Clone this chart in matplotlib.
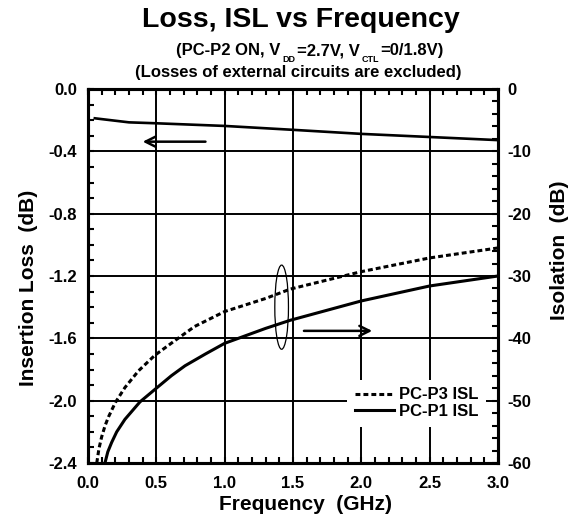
import matplotlib
matplotlib.use("Agg")
import matplotlib.pyplot as plt
from matplotlib.patches import Ellipse
from matplotlib.ticker import MultipleLocator, FormatStrFormatter

plt.rcParams['font.family'] = ['Liberation Sans', 'DejaVu Sans']
plt.rcParams['font.weight'] = 'bold'
plt.rcParams['axes.unicode_minus'] = False

# insertion loss (left axis)
freq_loss = [0.05, 0.3, 0.5, 1.0, 1.5, 2.0, 2.5, 3.0]
loss = [-0.188, -0.214, -0.220, -0.237, -0.262, -0.288, -0.308, -0.328]

# isolation curves (right axis)
freq_p3 = [0.064, 0.08, 0.10, 0.125, 0.15, 0.20, 0.27, 0.37, 0.49, 0.64, 0.78, 1.0, 1.3, 1.48, 2.0, 2.5, 3.0]
isl_p3 = [-60, -57.7, -55.8, -54.0, -52.6, -50.3, -47.9, -45.2, -42.7, -40.3, -38.1, -35.7, -33.6, -32.1, -29.3, -27.1, -25.5]

freq_p1 = [0.124, 0.145, 0.173, 0.21, 0.27, 0.38, 0.50, 0.61, 0.71, 0.86, 1.0, 1.3, 1.48, 2.0, 2.5, 3.0]
isl_p1 = [-60, -58.2, -56.7, -55.0, -53.0, -50.2, -48.0, -46.0, -44.4, -42.5, -40.8, -38.4, -37.1, -34.0, -31.6, -30.0]

W, H = 579, 522
fig = plt.figure(figsize=(5.79, 5.22), dpi=100)
ax = fig.add_axes([0.152, 0.113, 0.708, 0.7165])
ax2 = ax.twinx()

ax.plot(freq_loss, loss, color='black', linewidth=1.9)
ax2.plot(freq_p3, isl_p3, color='black', linewidth=2.2, dashes=(1.6, 1.0), label='PC-P3 ISL')
ax2.plot(freq_p1, isl_p1, color='black', linewidth=2.2, label='PC-P1 ISL')

ax.set_xlim(0, 3.0)
ax.set_ylim(-2.4, 0.0)
ax2.set_ylim(-60, 0)

ax.xaxis.set_major_locator(MultipleLocator(0.5))
ax.xaxis.set_minor_locator(MultipleLocator(0.1))
ax.yaxis.set_major_locator(MultipleLocator(0.4))
ax.yaxis.set_minor_locator(MultipleLocator(0.1))
ax2.yaxis.set_major_locator(MultipleLocator(10))
ax2.yaxis.set_minor_locator(MultipleLocator(2))
ax.xaxis.set_major_formatter(FormatStrFormatter('%.1f'))
ax.yaxis.set_major_formatter(FormatStrFormatter('%.1f'))
ax2.yaxis.set_major_formatter(FormatStrFormatter('%d'))

ax.grid(True, which='major', color='black', linewidth=1.4)

ax.tick_params(axis='x', which='both', direction='in', top=True, labelsize=12, pad=9, width=1.5, length=4)
ax.tick_params(axis='y', which='both', direction='in', right=False, labelsize=12, pad=8, width=1.5, length=4)
ax2.tick_params(axis='y', which='both', direction='in', labelsize=12, pad=7, width=1.5, length=4)

for a in (ax, ax2):
    for s in a.spines.values():
        s.set_linewidth(2.2)

# arrows and ellipse
ax.annotate('', xy=(0.38, -0.338), xytext=(0.88, -0.338),
            arrowprops=dict(arrowstyle='->', lw=1.8, color='black', mutation_scale=18))
ax2.annotate('', xy=(2.10, -38.8), xytext=(1.56, -38.8),
             arrowprops=dict(arrowstyle='->', lw=1.8, color='black', mutation_scale=18))
ax2.add_patch(Ellipse((1.417, -35.0), 0.10, 13.5, fill=False, edgecolor='black', linewidth=0.9))

leg = ax2.legend(loc='upper left', bbox_to_anchor=(0.632, 0.222), borderaxespad=0,
                 fontsize=12, frameon=True, fancybox=False, framealpha=1,
                 handlelength=2.35, handletextpad=0.3, labelspacing=0.1, borderpad=0.45)
leg.get_frame().set_facecolor('white')
leg.get_frame().set_edgecolor('none')

ax.set_xlabel('Frequency  (GHz)', fontsize=15, fontweight='bold')
ax.xaxis.set_label_coords(0.53, -0.085)
fig.text(0.050, 0.448, 'Insertion Loss  (dB)', rotation=90, ha='center', va='center',
         fontsize=15, fontweight='bold')
fig.text(0.967, 0.521, 'Isolation  (dB)', rotation=90, ha='center', va='center',
         fontsize=15, fontweight='bold')

fig.text(301 / W, 1 - 27 / H, 'Loss, ISL vs Frequency', ha='center', va='baseline',
         fontsize=20.5, fontweight='bold')

# first subtitle with low subscripts, laid out piece by piece
pieces = [('(PC-P2 ON, V', False), ('DD', True), ('=2.7V, V', False), ('CTL', True), ('=0/1.8V)', False)]
renderer = fig.canvas.get_renderer()
texts = []
for s, sub in pieces:
    t = fig.text(0, 0, s, ha='left', va='baseline', fontsize=6.5 if sub else 12, fontweight='bold')
    texts.append((t, sub))
widths = [t.get_window_extent(renderer).width for t, _ in texts]
gaps = [0, 2, 1, 2, 1]
total = sum(widths) + sum(gaps)
x = 310 - total / 2
for (t, sub), w, g in zip(texts, widths, gaps):
    x += g
    yb = 61.5 if sub else 55.5
    t.set_position((x / W, 1 - yb / H))
    x += w

fig.text(298 / W, 1 - 77 / H, '(Losses of external circuits are excluded)', ha='center', va='baseline',
         fontsize=12, fontweight='bold')

fig.savefig('out.png', dpi=100)
